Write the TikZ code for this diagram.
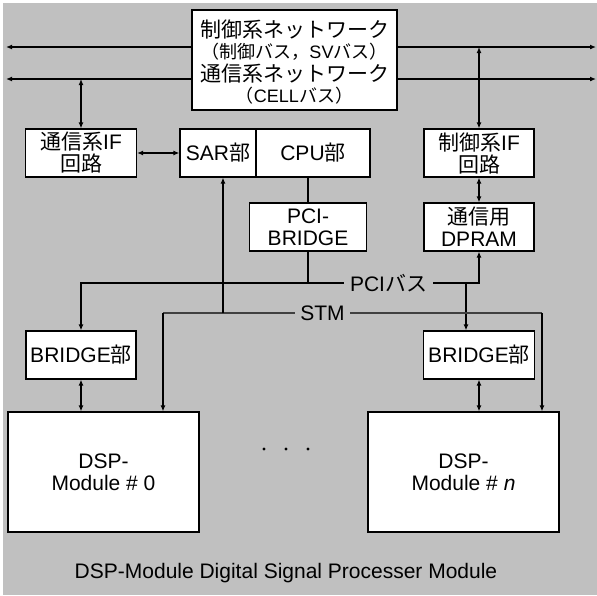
\documentclass[tikz,border=0pt]{standalone}
\usepackage{fontspec}
\setmainfont{Liberation Sans}
\newfontfamily\jp{Noto Sans CJK JP}
\usetikzlibrary{arrows.meta}
\definecolor{panel}{HTML}{C0C0C0}
\definecolor{stmgray}{HTML}{404040}
\newcommand{\smallpart}{\fontsize{18}{22}\selectfont}
\tikzset{
  >={Latex[length=6pt,width=5pt]},
  blk/.style={draw=black, line width=1.2pt, fill=white, inner sep=0pt,
    align=center, font=\fontsize{21}{22}\selectfont},
  wire/.style={line width=2pt, draw=black},
  stmwire/.style={line width=1.3pt, draw=stmgray},
  lbl/.style={inner sep=0pt, font=\fontsize{21}{22}\selectfont},
}
\begin{document}
\begin{tikzpicture}[x=1pt, y=-1pt]
  % canvas
  \useasboundingbox (0,0) rectangle (597,595);
  \fill[panel] (3,3) rectangle (597,595);

  % network box and its text
  \node[blk, minimum width=205pt, minimum height=100pt] (net) at (294.5,60) {};
  \node[lbl, align=center] (nettext) at (294.5,62.5)
    {{\jp 制御系ネットワーク}\\[-1pt]
     {\smallpart\jp （制御バス，}{\smallpart SV}{\smallpart\jp バス）}\\[1pt]
     {\jp 通信系ネットワーク}\\[-1pt]
     {\smallpart\jp （}{\smallpart CELL}{\smallpart\jp バス）}};

  % upper blocks
  \node[blk, minimum width=111pt, minimum height=48pt] (comif) at (81,153)
    {{\jp 通信系}IF\\{\jp 回路}};
  \node[blk, minimum width=76pt, minimum height=48pt] (sar) at (218,153)
    {SAR{\jp 部}};
  \node[blk, minimum width=114pt, minimum height=48pt] (cpu) at (313,153)
    {CPU{\jp 部}};
  \node[blk, minimum width=110pt, minimum height=48pt] (ctlif) at (479,153)
    {{\jp 制御系}IF\\{\jp 回路}};
  \node[blk, minimum width=117pt, minimum height=48pt] (pcib) at (308,227)
    {PCI-\\BRIDGE};
  \node[blk, minimum width=110pt, minimum height=48pt] (dpram) at (479,227)
    {{\jp 通信用}\\DPRAM};

  % bridges
  \node[blk, minimum width=110pt, minimum height=48pt] (brl) at (81,355)
    {BRIDGE{\jp 部}};
  \node[blk, minimum width=111pt, minimum height=48pt] (brr) at (479,355)
    {BRIDGE{\jp 部}};

  % DSP modules
  \node[blk, minimum width=191pt, minimum height=120pt] (dsp0) at (103.5,472)
    {DSP-\\Module \# 0};
  \node[blk, minimum width=191pt, minimum height=120pt] (dspn) at (463.5,472)
    {DSP-\\Module \# \textit{n}};

  % bus labels
  \node[lbl, inner xsep=6pt] (pci) at (388.5,283) {PCI{\jp バス}};
  \node[lbl, inner xsep=5.5pt] (stm) at (322.5,313) {STM};

  % free ends and taps
  \coordinate (n1l) at (6,47);
  \coordinate (n1r) at (596,47);
  \coordinate (n2l) at (6,79);
  \coordinate (n2r) at (596,79);
  \coordinate (ptap) at (466,283);
  \coordinate (s0) at (163,313);
  \coordinate (sn) at (542,313);
  \coordinate (ssar) at (223,313);

  % networks
  \draw[wire,->] (net.west |- n1l) -- (n1l);
  \draw[wire,->] (net.east |- n1r) -- (n1r);
  \draw[wire,->] (net.west |- n2l) -- (n2l);
  \draw[wire,->] (net.east |- n2r) -- (n2r);
  \draw[wire,<->] (comif.north |- n2l) -- (comif.north);
  \draw[wire,<->] (ctlif.north |- n1r) -- (ctlif.north);

  % local links
  \draw[wire,<->] (comif.east) -- (sar.west);
  \draw[wire,<->] (ctlif.south) -- (dpram.north);
  \draw[wire] (pcib.north) -- (pcib.north |- cpu.south);

  % PCI bus
  \draw[wire] (pcib.south) -- (pcib.south |- pci.west);
  \draw[wire,->] (pci.west) -- (brl.north |- pci.west) -- (brl.north);
  \draw[wire,->] (pci.east) -- (dpram.south |- pci.east) -- (dpram.south);
  \draw[wire,->] (ptap) -- (ptap |- brr.north);

  % STM
  \draw[stmwire] (stm.west) -- (s0);
  \draw[stmwire] (stm.east) -- (sn);
  \draw[wire,->] (s0) -- (s0 |- dsp0.north);
  \draw[wire,->] (sn) -- (sn |- dspn.north);
  \draw[wire,->] (ssar) -- (ssar |- sar.south);

  % bridge to module
  \draw[wire,<->] (brl.south) -- (brl.south |- dsp0.north);
  \draw[wire,<->] (brr.south) -- (brr.south |- dspn.north);

  % ellipsis between modules
  \foreach \px in {264,286,308} \fill (\px,449) circle (1.6pt);

  % caption
  \node[lbl] (cap) at (286,573) {DSP-Module Digital Signal Processer Module};
\end{tikzpicture}
\end{document}
